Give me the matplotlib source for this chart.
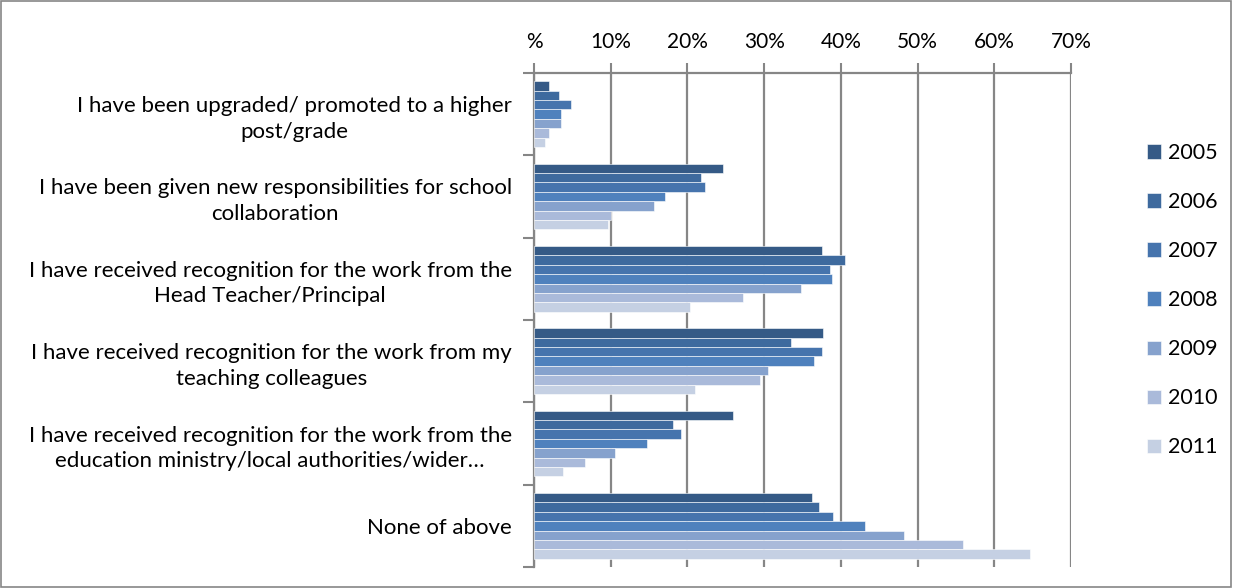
import matplotlib.pyplot as plt
import matplotlib.patches as mpatches
import numpy as np

categories = [
    "I have been upgraded/ promoted to a higher\npost/grade",
    "I have been given new responsibilities for school\ncollaboration",
    "I have received recognition for the work from the\nHead Teacher/Principal",
    "I have received recognition for the work from my\nteaching colleagues",
    "I have received recognition for the work from the\neducation ministry/local authorities/wider\u2026",
    "None of above",
]
years = ["2005", "2006", "2007", "2008", "2009", "2010", "2011"]

v2005 = [2.0, 24.6, 37.5, 37.7, 25.9, 36.2]
v2006 = [3.3, 21.8, 40.5, 33.5, 18.1, 37.1]
v2007 = [4.8, 22.3, 38.6, 37.6, 19.2, 39.0]
v2008 = [3.5, 17.1, 38.8, 36.5, 14.7, 43.1]
v2009 = [3.5, 15.7, 34.8, 30.5, 10.6, 48.2]
v2010 = [2.0, 10.1, 27.2, 29.5, 6.6, 55.9]
v2011 = [1.4, 9.7, 20.4, 21.0, 3.8, 64.7]
series = [v2005, v2006, v2007, v2008, v2009, v2010, v2011]

colors = ["#355a86", "#3e6a9e", "#4674ad", "#4f81bd", "#86a2cd", "#aabada", "#c5d0e3"]

plt.rcParams['font.family'] = ['Lato', 'DejaVu Sans']

fig = plt.figure(figsize=(12.33, 5.88), dpi=100)
ax = fig.add_axes([534/1233, 1 - 567/588, (1071-534)/1233, (567-73)/588])

n = len(series)
group = 0.8
h = group / n
y = np.arange(len(categories))
for i, vals in enumerate(series):
    off = -group/2 + h/2 + i*h
    ax.barh(y + off, vals, height=h, color=colors[i], edgecolor='white',
            linewidth=0.4, label=years[i], zorder=3)

ax.set_xlim(0, 70)
ax.set_ylim(len(categories) - 0.5, -0.5)
ax.xaxis.tick_top()
ax.set_xticks(np.arange(0, 71, 10))
ax.set_xticklabels(["%"] + [f"{v}%" for v in range(10, 71, 10)], fontsize=15)
ax.tick_params(axis='x', length=7, width=1.5, color='#868686', pad=8)
ax.grid(axis='x', color='#868686', linewidth=1.6, zorder=0)

ax.set_yticks(np.arange(-0.5, len(categories)), minor=False)
ax.set_yticklabels([])
ax.set_yticks(y, minor=True)
ax.set_yticklabels(categories, minor=True, fontsize=16, multialignment='center',
                   linespacing=1.35)
ax.tick_params(axis='y', which='major', length=8, width=1.5, color='#868686')
ax.tick_params(axis='y', which='minor', length=0, pad=16)

for s in ['right', 'bottom']:
    ax.spines[s].set_visible(False)
for s in ['left', 'top']:
    ax.spines[s].set_color('#868686')
    ax.spines[s].set_linewidth(1.6)

ax.legend(loc='center left', bbox_to_anchor=(1.121, 0.54), frameon=False,
          fontsize=15.5, handlelength=0.65, handleheight=0.65, handletextpad=0.35,
          labelspacing=1.35, borderpad=0)

fig.patches.append(mpatches.Rectangle((0.0005, 0.001), 0.998, 0.997, transform=fig.transFigure,
                                      fill=False, edgecolor='#868686', linewidth=1.2))

fig.savefig('out.png', dpi=100)
